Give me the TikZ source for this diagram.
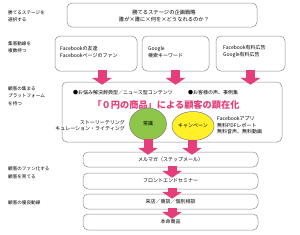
\documentclass[tikz,border=0pt]{standalone}
\usepackage{fontspec}
\setmainfont{Noto Sans CJK JP}
\usetikzlibrary{arrows.meta,shapes.geometric,calc}
\definecolor{pk}{RGB}{229,62,122}
\definecolor{grn}{RGB}{141,198,72}
\definecolor{ylw}{RGB}{255,240,40}
\begin{document}
\begin{tikzpicture}[x=1pt,y=-1pt,
  every node/.style={font=\fontsize{5}{7}\selectfont, inner sep=0pt},
  box/.style={draw=black!45, line width=0.5pt, rounded corners=5pt},
  lbl/.style={anchor=west, align=left, font=\fontsize{4.6}{7.5}\selectfont},
  fat/.style={pk, line width=9pt, -{Triangle[width=20pt,length=7pt]}},
  oval/.style={ellipse, draw=black!50, line width=0.5pt},
]
\useasboundingbox (0,0) rectangle (300,234);

% left labels
\node[lbl] (l1) at (8,16) {勝てるステージを\\選択する};
\node[lbl] (l2) at (8,47.5) {集客動線を\\複数持つ};
\node[lbl] (l3) at (8,96) {顧客の集まる\\プラットフォーム\\を持つ};
\node[lbl] (l4) at (8,173) {顧客のファン化する\\顧客を育てる};
\node[lbl] (l5) at (8,203) {顧客の優良動線};

% top box
\node[box, minimum width=190pt, minimum height=24pt] (top) at (162,15) {};
\node[align=center, font=\fontsize{5.3}{6.8}\selectfont] (toptxt) at (164,16) {勝てるステージの企画戦略\\誰が×誰に×何を×どうなれるのか？};

% row 2
\node[box, minimum width=82pt, minimum height=35pt] (b1) at (96,53.5) {};
\node[box, minimum width=67pt, minimum height=35pt] (b2) at (175.5,53.5) {};
\node[box, minimum width=69pt, minimum height=35pt] (b3) at (250.5,53.5) {};
\node[anchor=west, align=left] (t1) at (60,52.5) {Facebookの友達\\Facebookページのファン};
\node[anchor=west, align=left] (t2) at (148,52.5) {Google\\検索キーワード};
\node[anchor=west, align=left] (t3) at (223,51.5) {Facebook有料広告\\Google有料広告};

% big box
\node[box, minimum width=220pt, minimum height=60pt] (big) at (172,112) {};
\node[anchor=west] (c1) at (73,93) {●お悩み解決辞典型／ニュース型コンテンツ};
\node[anchor=west] (c2) at (188,93) {●お客様の声、事例集};
\node[font=\fontsize{9.2}{10}\selectfont\bfseries, text=pk] (head) at (166,105) {「０円の商品」による顧客の顕在化};
\node[anchor=east, align=right, font=\fontsize{5}{6}\selectfont] (story) at (125,126) {ストーリーテリング\\キュレーション・ライティング};
\node[oval, fill=grn, minimum width=37pt, minimum height=32pt] (g) at (148,124) {常識};
\node[oval, fill=ylw, minimum width=40pt, minimum height=29pt] (yw) at (193,126) {キャンペーン};
\node[anchor=west, align=left, font=\fontsize{5}{6.5}\selectfont] (fb) at (217,125.5) {Facebookアプリ\\無料PDFレポート\\無料音声、無料動画};

% lower boxes
\node[box, minimum width=175pt, minimum height=15pt] (mail) at (170.5,159.5) {メルマガ（ステップメール）};
\node[box, minimum width=175pt, minimum height=16pt] (front) at (170.5,181) {フロントエンドセミナー};
\node[box, minimum width=175pt, minimum height=15pt] (visit) at (170.5,201.5) {来店／商談／個別相談};
\node[box, minimum width=175pt, minimum height=16pt] (main) at (170.5,222) {本命商品};

% arrows
\draw[fat] ($(b1.south)+(6,-1)$) -- ($(b1.south |- big.north)+(6,3)$);
\draw[fat] ($(b2.south)+(0,-1)$) -- ($(b2.south |- big.north)+(0,3)$);
\draw[fat] ($(b3.south)+(0,-1)$) -- ($(b3.south |- big.north)+(0,3)$);
\draw[fat] ($(g.south)+(0,-1)$) -- ($(g.south |- mail.north)+(0,3)$);
\draw[fat] ($(yw.south)+(-1,-1)$) -- ($(yw.south |- mail.north)+(-1,3)$);
\draw[fat] ($(mail.south)+(1.5,-1)$) -- ($(mail.south |- front.north)+(1.5,5)$);
\draw[fat] ($(front.south)+(1.5,-1)$) -- ($(front.south |- visit.north)+(1.5,5)$);
\draw[fat] ($(visit.south)+(1.5,-1)$) -- ($(visit.south |- main.north)+(1.5,5)$);
\end{tikzpicture}
\end{document}
